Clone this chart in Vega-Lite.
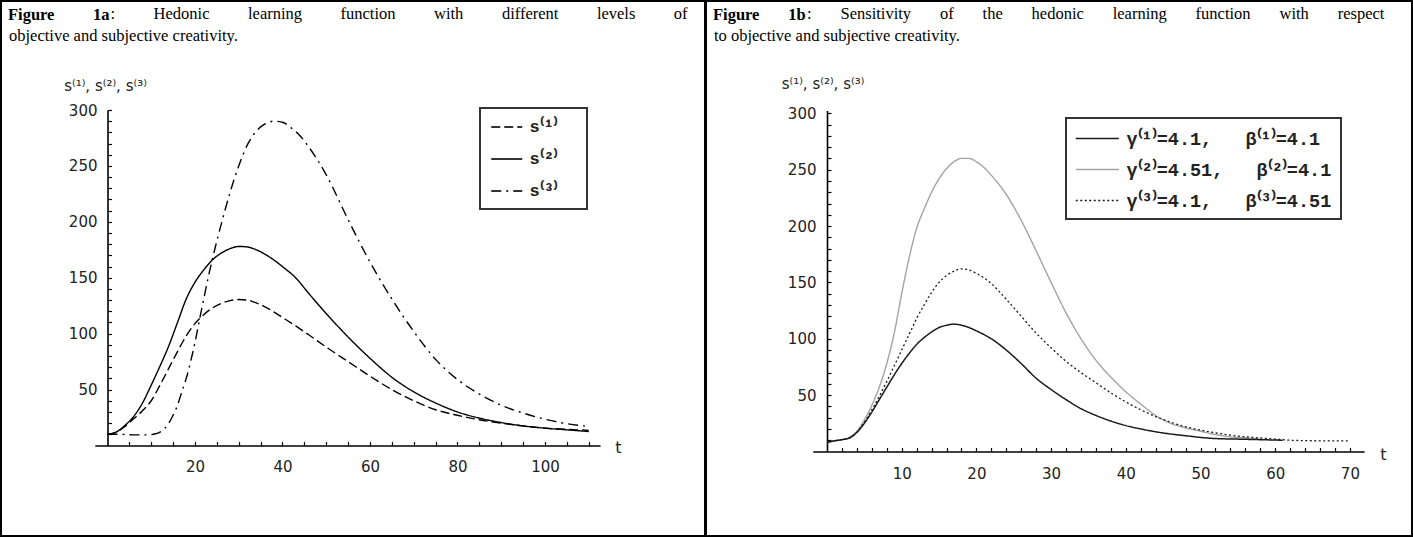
{
  "$schema": "https://vega.github.io/schema/vega-lite/v6.json",
  "padding": 0,
  "autosize": {"type": "pad"},
  "background": "white",
  "spacing": -2,
  "datasets": {
    "a": [
      {"t":0,"v":10,"series":"s⁽¹⁾"},{"t":2,"v":12,"series":"s⁽¹⁾"},{"t":4,"v":17,"series":"s⁽¹⁾"},{"t":6,"v":24,"series":"s⁽¹⁾"},{"t":8,"v":31,"series":"s⁽¹⁾"},{"t":10,"v":40,"series":"s⁽¹⁾"},{"t":12,"v":54,"series":"s⁽¹⁾"},{"t":14,"v":69,"series":"s⁽¹⁾"},{"t":16,"v":84,"series":"s⁽¹⁾"},{"t":18,"v":98,"series":"s⁽¹⁾"},{"t":20,"v":109,"series":"s⁽¹⁾"},{"t":22,"v":117,"series":"s⁽¹⁾"},{"t":24,"v":123,"series":"s⁽¹⁾"},{"t":26,"v":127,"series":"s⁽¹⁾"},{"t":28,"v":129.5,"series":"s⁽¹⁾"},{"t":30,"v":130.5,"series":"s⁽¹⁾"},{"t":32,"v":130,"series":"s⁽¹⁾"},{"t":34,"v":127.5,"series":"s⁽¹⁾"},{"t":36,"v":124,"series":"s⁽¹⁾"},{"t":38,"v":119.5,"series":"s⁽¹⁾"},{"t":40,"v":114.5,"series":"s⁽¹⁾"},{"t":43,"v":107,"series":"s⁽¹⁾"},{"t":46,"v":99,"series":"s⁽¹⁾"},{"t":50,"v":88,"series":"s⁽¹⁾"},{"t":55,"v":75,"series":"s⁽¹⁾"},{"t":60,"v":62,"series":"s⁽¹⁾"},{"t":65,"v":50,"series":"s⁽¹⁾"},{"t":70,"v":40,"series":"s⁽¹⁾"},{"t":75,"v":32,"series":"s⁽¹⁾"},{"t":80,"v":27,"series":"s⁽¹⁾"},{"t":85,"v":23,"series":"s⁽¹⁾"},{"t":90,"v":20,"series":"s⁽¹⁾"},{"t":95,"v":17.5,"series":"s⁽¹⁾"},{"t":100,"v":15.5,"series":"s⁽¹⁾"},{"t":105,"v":14.5,"series":"s⁽¹⁾"},{"t":110,"v":13.5,"series":"s⁽¹⁾"},
      {"t":0,"v":10,"series":"s⁽²⁾"},{"t":2,"v":12,"series":"s⁽²⁾"},{"t":4,"v":18,"series":"s⁽²⁾"},{"t":6,"v":26,"series":"s⁽²⁾"},{"t":8,"v":38,"series":"s⁽²⁾"},{"t":10,"v":54,"series":"s⁽²⁾"},{"t":12,"v":71,"series":"s⁽²⁾"},{"t":14,"v":89,"series":"s⁽²⁾"},{"t":16,"v":110,"series":"s⁽²⁾"},{"t":18,"v":131,"series":"s⁽²⁾"},{"t":20,"v":146,"series":"s⁽²⁾"},{"t":22,"v":157,"series":"s⁽²⁾"},{"t":24,"v":166,"series":"s⁽²⁾"},{"t":26,"v":172,"series":"s⁽²⁾"},{"t":28,"v":176,"series":"s⁽²⁾"},{"t":30,"v":178,"series":"s⁽²⁾"},{"t":32,"v":177.5,"series":"s⁽²⁾"},{"t":34,"v":175,"series":"s⁽²⁾"},{"t":36,"v":171,"series":"s⁽²⁾"},{"t":38,"v":166,"series":"s⁽²⁾"},{"t":40,"v":160,"series":"s⁽²⁾"},{"t":43,"v":150,"series":"s⁽²⁾"},{"t":46,"v":136,"series":"s⁽²⁾"},{"t":50,"v":118,"series":"s⁽²⁾"},{"t":55,"v":97,"series":"s⁽²⁾"},{"t":60,"v":78,"series":"s⁽²⁾"},{"t":65,"v":61,"series":"s⁽²⁾"},{"t":70,"v":48,"series":"s⁽²⁾"},{"t":75,"v":38,"series":"s⁽²⁾"},{"t":80,"v":30,"series":"s⁽²⁾"},{"t":85,"v":24.5,"series":"s⁽²⁾"},{"t":90,"v":20.5,"series":"s⁽²⁾"},{"t":95,"v":17.5,"series":"s⁽²⁾"},{"t":100,"v":15.5,"series":"s⁽²⁾"},{"t":105,"v":14,"series":"s⁽²⁾"},{"t":110,"v":12.5,"series":"s⁽²⁾"},
      {"t":0,"v":10,"series":"s⁽³⁾"},{"t":3,"v":10,"series":"s⁽³⁾"},{"t":6,"v":9.5,"series":"s⁽³⁾"},{"t":9,"v":9.5,"series":"s⁽³⁾"},{"t":11,"v":10.5,"series":"s⁽³⁾"},{"t":12,"v":12,"series":"s⁽³⁾"},{"t":13,"v":15,"series":"s⁽³⁾"},{"t":14,"v":20,"series":"s⁽³⁾"},{"t":15,"v":27,"series":"s⁽³⁾"},{"t":16,"v":36,"series":"s⁽³⁾"},{"t":17,"v":48,"series":"s⁽³⁾"},{"t":18,"v":60,"series":"s⁽³⁾"},{"t":19,"v":75,"series":"s⁽³⁾"},{"t":20,"v":92,"series":"s⁽³⁾"},{"t":21,"v":112,"series":"s⁽³⁾"},{"t":22,"v":131,"series":"s⁽³⁾"},{"t":23,"v":150,"series":"s⁽³⁾"},{"t":24,"v":167,"series":"s⁽³⁾"},{"t":26,"v":198,"series":"s⁽³⁾"},{"t":28,"v":226,"series":"s⁽³⁾"},{"t":30,"v":250,"series":"s⁽³⁾"},{"t":32,"v":269,"series":"s⁽³⁾"},{"t":34,"v":281,"series":"s⁽³⁾"},{"t":36,"v":287.5,"series":"s⁽³⁾"},{"t":38,"v":290,"series":"s⁽³⁾"},{"t":40,"v":289,"series":"s⁽³⁾"},{"t":42,"v":284,"series":"s⁽³⁾"},{"t":44,"v":277,"series":"s⁽³⁾"},{"t":46,"v":267,"series":"s⁽³⁾"},{"t":50,"v":242,"series":"s⁽³⁾"},{"t":55,"v":202,"series":"s⁽³⁾"},{"t":60,"v":164,"series":"s⁽³⁾"},{"t":65,"v":131,"series":"s⁽³⁾"},{"t":70,"v":102,"series":"s⁽³⁾"},{"t":75,"v":77,"series":"s⁽³⁾"},{"t":80,"v":59,"series":"s⁽³⁾"},{"t":85,"v":46,"series":"s⁽³⁾"},{"t":90,"v":36,"series":"s⁽³⁾"},{"t":95,"v":29,"series":"s⁽³⁾"},{"t":100,"v":23.5,"series":"s⁽³⁾"},{"t":105,"v":19.5,"series":"s⁽³⁾"},{"t":110,"v":17,"series":"s⁽³⁾"}
    ],
    "b": [
      {"t":0,"v":8,"series":"g2"},{"t":1,"v":9.5,"series":"g2"},{"t":2,"v":10.5,"series":"g2"},{"t":3,"v":12.5,"series":"g2"},{"t":4,"v":18,"series":"g2"},{"t":5,"v":28,"series":"g2"},{"t":6,"v":41,"series":"g2"},{"t":7,"v":57,"series":"g2"},{"t":8,"v":78,"series":"g2"},{"t":9,"v":105,"series":"g2"},{"t":10,"v":140,"series":"g2"},{"t":11,"v":172,"series":"g2"},{"t":12,"v":198,"series":"g2"},{"t":13,"v":215,"series":"g2"},{"t":14,"v":230,"series":"g2"},{"t":15,"v":242,"series":"g2"},{"t":16,"v":251,"series":"g2"},{"t":17,"v":257,"series":"g2"},{"t":18,"v":260,"series":"g2"},{"t":19,"v":260,"series":"g2"},{"t":20,"v":257,"series":"g2"},{"t":21,"v":252,"series":"g2"},{"t":22,"v":245,"series":"g2"},{"t":24,"v":228,"series":"g2"},{"t":26,"v":205,"series":"g2"},{"t":28,"v":178,"series":"g2"},{"t":30,"v":150,"series":"g2"},{"t":32,"v":123,"series":"g2"},{"t":34,"v":100,"series":"g2"},{"t":36,"v":81,"series":"g2"},{"t":38,"v":66,"series":"g2"},{"t":40,"v":53,"series":"g2"},{"t":42,"v":42,"series":"g2"},{"t":44,"v":32,"series":"g2"},{"t":46,"v":25,"series":"g2"},{"t":48,"v":21,"series":"g2"},{"t":50,"v":18,"series":"g2"},{"t":52,"v":15,"series":"g2"},{"t":54,"v":13,"series":"g2"},{"t":56,"v":12,"series":"g2"},{"t":58,"v":11,"series":"g2"},
      {"t":0,"v":8,"series":"g1"},{"t":1,"v":9.5,"series":"g1"},{"t":2,"v":10.5,"series":"g1"},{"t":3,"v":12,"series":"g1"},{"t":4,"v":17,"series":"g1"},{"t":5,"v":25,"series":"g1"},{"t":6,"v":35,"series":"g1"},{"t":7,"v":46,"series":"g1"},{"t":8,"v":57,"series":"g1"},{"t":9,"v":68,"series":"g1"},{"t":10,"v":78,"series":"g1"},{"t":11,"v":87,"series":"g1"},{"t":12,"v":95,"series":"g1"},{"t":13,"v":101,"series":"g1"},{"t":14,"v":106,"series":"g1"},{"t":15,"v":110,"series":"g1"},{"t":16,"v":112,"series":"g1"},{"t":17,"v":113,"series":"g1"},{"t":18,"v":112,"series":"g1"},{"t":19,"v":110,"series":"g1"},{"t":20,"v":107,"series":"g1"},{"t":22,"v":100,"series":"g1"},{"t":24,"v":90,"series":"g1"},{"t":26,"v":78,"series":"g1"},{"t":28,"v":65,"series":"g1"},{"t":30,"v":55,"series":"g1"},{"t":32,"v":46,"series":"g1"},{"t":34,"v":38,"series":"g1"},{"t":36,"v":32,"series":"g1"},{"t":38,"v":27,"series":"g1"},{"t":40,"v":23,"series":"g1"},{"t":42,"v":20,"series":"g1"},{"t":44,"v":17.5,"series":"g1"},{"t":46,"v":15.5,"series":"g1"},{"t":48,"v":14,"series":"g1"},{"t":50,"v":12.5,"series":"g1"},{"t":52,"v":11.5,"series":"g1"},{"t":55,"v":11,"series":"g1"},{"t":58,"v":10.5,"series":"g1"},{"t":61,"v":10,"series":"g1"},
      {"t":0,"v":8,"series":"g3"},{"t":1,"v":9.5,"series":"g3"},{"t":2,"v":10.5,"series":"g3"},{"t":3,"v":12,"series":"g3"},{"t":4,"v":17,"series":"g3"},{"t":5,"v":26,"series":"g3"},{"t":6,"v":37,"series":"g3"},{"t":7,"v":49,"series":"g3"},{"t":8,"v":62,"series":"g3"},{"t":9,"v":76,"series":"g3"},{"t":10,"v":90,"series":"g3"},{"t":11,"v":104,"series":"g3"},{"t":12,"v":118,"series":"g3"},{"t":13,"v":130,"series":"g3"},{"t":14,"v":141,"series":"g3"},{"t":15,"v":150,"series":"g3"},{"t":16,"v":156,"series":"g3"},{"t":17,"v":160,"series":"g3"},{"t":18,"v":162,"series":"g3"},{"t":19,"v":161,"series":"g3"},{"t":20,"v":158,"series":"g3"},{"t":22,"v":149,"series":"g3"},{"t":24,"v":135,"series":"g3"},{"t":26,"v":120,"series":"g3"},{"t":28,"v":105,"series":"g3"},{"t":30,"v":92,"series":"g3"},{"t":32,"v":80,"series":"g3"},{"t":34,"v":70,"series":"g3"},{"t":36,"v":61,"series":"g3"},{"t":38,"v":52,"series":"g3"},{"t":40,"v":44,"series":"g3"},{"t":42,"v":37,"series":"g3"},{"t":44,"v":31,"series":"g3"},{"t":46,"v":26,"series":"g3"},{"t":48,"v":22,"series":"g3"},{"t":50,"v":19,"series":"g3"},{"t":52,"v":16.5,"series":"g3"},{"t":54,"v":14.5,"series":"g3"},{"t":56,"v":13,"series":"g3"},{"t":58,"v":12,"series":"g3"},{"t":60,"v":11,"series":"g3"},{"t":62,"v":10,"series":"g3"},{"t":66,"v":9.5,"series":"g3"},{"t":70,"v":9.5,"series":"g3"}
    ]
  },
  "hconcat": [
    {
      "title": {"text": "objective and subjective creativity.", "anchor": "start", "frame": "group", "offset": -44, "dx": 8,
        "font": "Liberation Serif", "fontSize": 16.5, "fontWeight": "normal", "color": "black"},
      "vconcat": [
        {
          "title": {"text": ": \u2003\u2003\u200aHedonic \u2003\u2003\u200alearning \u2003\u2003\u200afunction \u2003\u2003\u200awith \u2003\u2003\u200adifferent \u2003\u2003\u200alevels \u2003\u2003\u200aof",
            "anchor": "start", "frame": "group", "offset": -22, "dx": 109.5,
            "font": "Liberation Serif", "fontSize": 16.5, "fontWeight": "normal", "color": "black"},
          "vconcat": [
            {
              "width": 704,
              "height": 535,
              "data": {"name": "a"},
              "title": {"text": "Figure \u2003\u2003\u200a1a", "anchor": "start", "frame": "group", "offset": -22, "dx": 7,
                "font": "Liberation Serif", "fontSize": 16.5, "fontWeight": "bold", "color": "black"},
              "mark": {"type": "line", "interpolate": "monotone", "strokeWidth": 1.4, "color": "black"},
              "encoding": {
                "x": {"field": "t", "type": "quantitative",
                  "scale": {"domain": [-2.9, 112.6], "range": [93.8, 599.1], "nice": false, "zero": false},
                  "axis": {"orient": "bottom", "offset": -90.5, "values": [5,10,15,20,25,30,35,40,45,50,55,60,65,70,75,80,85,90,95,100,105,110],
                    "labelExpr": "datum.value % 20 === 0 ? datum.label : ''", "tickSize": -4, "labelPadding": 18,
                    "title": "t", "titleX": 617, "titleY": 2, "titleAlign": "center", "titleBaseline": "middle", "titleFontSize": 16}},
                "y": {"field": "v", "type": "quantitative",
                  "scale": {"domain": [0, 300], "range": [444.5, 109], "nice": false},
                  "axis": {"orient": "left", "offset": -106.5, "values": [10,20,30,40,50,60,70,80,90,100,110,120,130,140,150,160,170,180,190,200,210,220,230,240,250,260,270,280,290,300],
                    "labelExpr": "datum.value % 50 === 0 ? datum.label : ''", "tickSize": -4, "labelPadding": 14.5,
                    "title": "s⁽¹⁾, s⁽²⁾, s⁽³⁾", "titleAngle": 0, "titleX": -2.5, "titleY": 84, "titleAlign": "center", "titleBaseline": "middle", "titleFontSize": 15}},
                "strokeDash": {"field": "series", "type": "nominal",
                  "scale": {"domain": ["s⁽¹⁾", "s⁽²⁾", "s⁽³⁾"], "range": [[9, 4], [1, 0], [10, 5, 2, 5]]},
                  "legend": {"orient": "none", "legendX": 479, "legendY": 107, "title": null, "padding": 10, "rowPadding": 15,
                    "symbolType": "M-1,0H3", "symbolSize": 240, "symbolStrokeWidth": 2, "symbolStrokeColor": "#333",
                    "labelOffset": 21.5, "labelFont": "Liberation Mono", "labelFontWeight": "bold", "labelFontSize": 17, "labelColor": "#222", "labelLimit": 0,
                    "labelExpr": "datum.label + '\u2002\u00a0\u200b'"}}
              }
            }
          ]
        }
      ]
    },
    {
      "title": {"text": "to objective and subjective creativity.", "anchor": "start", "frame": "group", "offset": -44, "dx": 8,
        "font": "Liberation Serif", "fontSize": 16.5, "fontWeight": "normal", "color": "black"},
      "vconcat": [
        {
          "title": {"text": ": \u2003\u2002Sensitivity \u2003\u2002of \u2003\u2002the \u2003\u2002hedonic \u2003\u2002learning \u2003\u2002function \u2003\u2002with \u2003\u2002respect",
            "anchor": "start", "frame": "group", "offset": -22, "dx": 101,
            "font": "Liberation Serif", "fontSize": 16.5, "fontWeight": "normal", "color": "black"},
          "vconcat": [
            {
              "width": 706,
              "height": 535,
              "data": {"name": "b"},
              "title": {"text": "Figure \u2003\u20021b", "anchor": "start", "frame": "group", "offset": -22, "dx": 7,
                "font": "Liberation Serif", "fontSize": 16.5, "fontWeight": "bold", "color": "black"},
              "mark": {"type": "line", "interpolate": "monotone"},
              "encoding": {
                "x": {"field": "t", "type": "quantitative",
                  "scale": {"domain": [-1.9, 71.9], "range": [106.8, 658.1], "nice": false, "zero": false},
                  "axis": {"orient": "bottom", "offset": -84.5, "values": [2,4,6,8,10,12,14,16,18,20,22,24,26,28,30,32,34,36,38,40,42,44,46,48,50,52,54,56,58,60,62,64,66,68,70],
                    "labelExpr": "datum.value % 10 === 0 ? datum.label : ''", "tickSize": -4, "labelPadding": 19,
                    "title": "t", "titleX": 677, "titleY": 2.5, "titleAlign": "center", "titleBaseline": "middle", "titleFontSize": 16}},
                "y": {"field": "v", "type": "quantitative",
                  "scale": {"domain": [0, 302.5], "range": [450.5, 109.5], "nice": false},
                  "axis": {"orient": "left", "offset": -121, "values": [10,20,30,40,50,60,70,80,90,100,110,120,130,140,150,160,170,180,190,200,210,220,230,240,250,260,270,280,290,300],
                    "labelExpr": "datum.value % 50 === 0 ? datum.label : ''", "tickSize": -4, "labelPadding": 15,
                    "title": "s⁽¹⁾, s⁽²⁾, s⁽³⁾", "titleAngle": 0, "titleX": -4.5, "titleY": 82, "titleAlign": "center", "titleBaseline": "middle", "titleFontSize": 15}},
                "color": {"field": "series", "type": "nominal",
                  "scale": {"domain": ["g1", "g2", "g3"], "range": ["#1a1a1a", "#a3a3a3", "#1a1a1a"]},
                  "legend": {"orient": "none", "legendX": 360, "legendY": 117, "title": null, "padding": 9, "rowPadding": 10,
                    "symbolType": "M-1,0H3", "symbolSize": 462, "symbolStrokeWidth": 2,
                    "labelOffset": 28.5, "labelFont": "Liberation Mono", "labelFontWeight": "bold", "labelFontSize": 18.5, "labelColor": "#222", "labelLimit": 0,
                    "labelExpr": "datum.value === 'g1' ? 'γ⁽¹⁾=4.1,\u00a0\u00a0\u00a0β⁽¹⁾=4.1' : datum.value === 'g2' ? 'γ⁽²⁾=4.51,\u00a0\u00a0\u00a0β⁽²⁾=4.1' : 'γ⁽³⁾=4.1,\u00a0\u00a0\u00a0β⁽³⁾=4.51'"}},
                "strokeDash": {"field": "series", "type": "nominal",
                  "scale": {"domain": ["g1", "g2", "g3"], "range": [[1, 0], [1, 0], [2, 2.5]]},
                  "legend": {"orient": "none", "legendX": 360, "legendY": 117, "title": null, "padding": 9, "rowPadding": 10,
                    "symbolType": "M-1,0H3", "symbolSize": 462, "symbolStrokeWidth": 2,
                    "labelOffset": 28.5, "labelFont": "Liberation Mono", "labelFontWeight": "bold", "labelFontSize": 18.5, "labelColor": "#222", "labelLimit": 0,
                    "labelExpr": "datum.value === 'g1' ? 'γ⁽¹⁾=4.1,\u00a0\u00a0\u00a0β⁽¹⁾=4.1' : datum.value === 'g2' ? 'γ⁽²⁾=4.51,\u00a0\u00a0\u00a0β⁽²⁾=4.1' : 'γ⁽³⁾=4.1,\u00a0\u00a0\u00a0β⁽³⁾=4.51'"}},
                "strokeWidth": {"field": "series", "type": "nominal",
                  "scale": {"domain": ["g1", "g2", "g3"], "range": [1.5, 1.3, 2]},
                  "legend": null}
              }
            }
          ]
        }
      ]
    }
  ],
  "resolve": {"scale": {"x": "independent", "y": "independent", "strokeDash": "independent", "color": "independent", "strokeWidth": "independent"}},
  "config": {
    "view": {"stroke": "black", "strokeWidth": 2, "fill": "white"},
    "axis": {"grid": false, "domainColor": "black", "domainWidth": 1.6, "tickColor": "black", "tickWidth": 1.2,
      "labelFont": "DejaVu Sans", "labelFontSize": 15, "labelColor": "#222", "titleFont": "DejaVu Sans", "titleColor": "#222",
      "titleFontWeight": "normal", "labelFlush": false, "labelOverlap": false, "labelBound": false},
    "legend": {"strokeColor": "#333", "strokeWidth": 2, "fillColor": "white"}
  }
}
